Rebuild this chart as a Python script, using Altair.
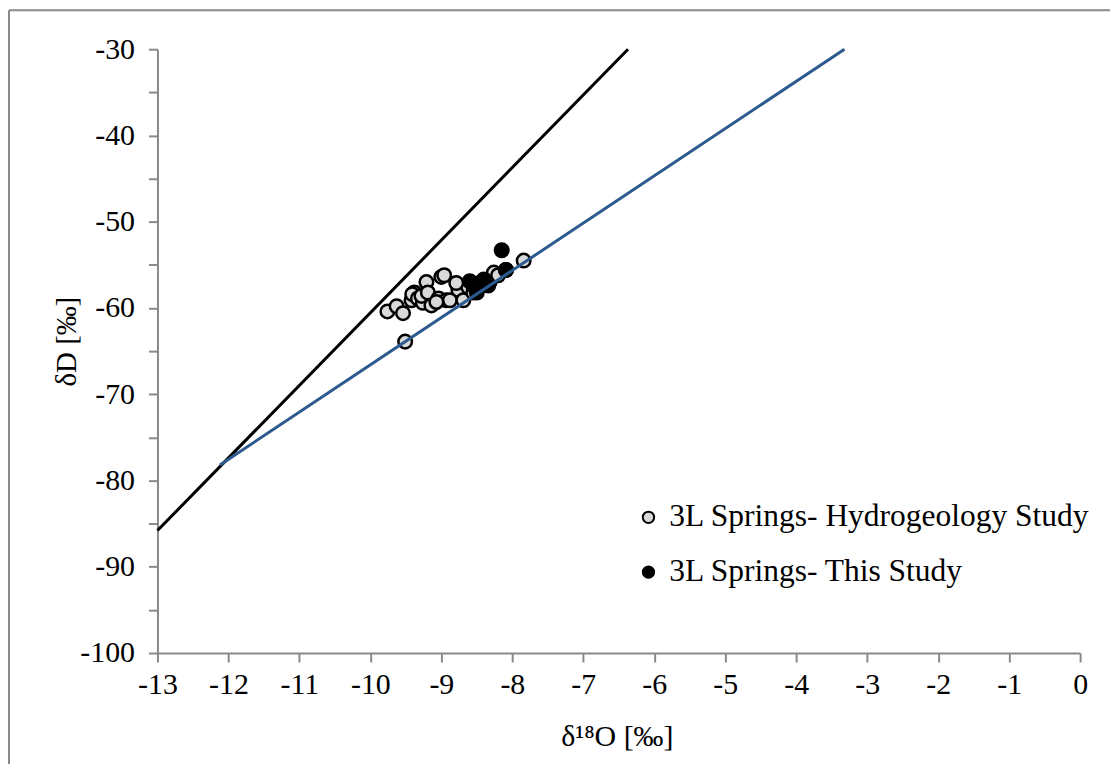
import altair as alt
import pandas as pd

# ---- data ----
series_names = ["3L Springs- Hydrogeology Study", "3L Springs- This Study"]

hydro_x = [-9.76, -9.63, -9.54, -9.51, -9.42, -9.38, -9.41, -9.33, -9.26, -9.28,
           -9.21, -9.19, -9.14, -9.04, -9.00, -8.96, -8.93, -8.88, -8.76, -8.69,
           -8.62, -8.51, -8.41, -8.32, -8.26, -8.20, -8.09, -7.84, -8.55, -8.79,
           -9.07]
hydro_y = [-60.4, -59.8, -60.6, -63.9, -59.1, -58.2, -58.4, -58.9, -59.4, -58.6,
           -57.0, -58.2, -59.7, -58.9, -56.4, -56.2, -59.1, -59.1, -57.9, -59.1,
           -57.6, -57.4, -57.1, -57.0, -55.9, -56.2, -55.6, -54.5, -58.2, -57.1,
           -59.3]

this_x = [-8.15, -8.60, -8.51, -8.46, -8.40, -8.50, -8.09, -8.34, -8.55]
this_y = [-53.3, -56.9, -57.7, -57.1, -56.7, -58.2, -55.6, -57.4, -57.4]

gmwl_x = [-13.0, -6.37]
gmwl_y = [-85.8, -30.0]
lel_x = [-12.12, -3.32]
lel_y = [-78.2, -30.0]

x_ticks = list(range(-13, 1))
y_ticks = list(range(-100, -25, 5))

FONT = "Liberation Serif, Times New Roman, serif"
AXIS_GRAY = "#898989"

pts = pd.DataFrame({
    "x": hydro_x + this_x,
    "y": hydro_y + this_y,
    "series": [series_names[0]] * len(hydro_x) + [series_names[1]] * len(this_x),
})
lines = pd.DataFrame({
    "x": gmwl_x + lel_x,
    "y": gmwl_y + lel_y,
    "line": ["GMWL"] * 2 + ["LEL"] * 2,
})

xscale = alt.Scale(domain=[-13, 0], nice=False, zero=False)
yscale = alt.Scale(domain=[-100, -30], nice=False, zero=False)

x_axis = alt.Axis(values=x_ticks, title="δ¹⁸O [‰]", labelExpr="'' + datum.value",
                  labelFlush=False, titleFontSize=30,
                  titleX=461, titleY=93, titleBaseline="alphabetic", titleAlign="center")
y_axis = alt.Axis(values=y_ticks, title="δD [‰]",
                  labelExpr="datum.value % 10 == 0 ? '' + datum.value : ''",
                  labelFlush=False, titleFontSize=29,
                  titleX=-91, titleY=293, titleAngle=270, titleAlign="center",
                  titleBaseline="middle")

points = alt.Chart(pts).mark_circle(size=185, stroke="black", strokeWidth=2.5, opacity=1).encode(
    x=alt.X("x:Q", scale=xscale, axis=x_axis),
    y=alt.Y("y:Q", scale=yscale, axis=y_axis),
    fill=alt.Fill("series:N",
                  scale=alt.Scale(domain=series_names, range=["#d9d9d9", "#000000"]),
                  legend=alt.Legend(title=None, orient="none", legendX=477, legendY=454,
                                    symbolType="circle", symbolSize=130,
                                    symbolStrokeColor="black", symbolStrokeWidth=2,
                                    labelFont=FONT, labelFontSize=31.6, labelColor="black",
                                    labelLimit=600, rowPadding=22, labelOffset=5)),
)

line_layer = alt.Chart(lines).mark_line(strokeWidth=3).encode(
    x=alt.X("x:Q", scale=xscale),
    y=alt.Y("y:Q", scale=yscale),
    detail="line:N",
    color=alt.Color("line:N", scale=alt.Scale(domain=["GMWL", "LEL"], range=["#000000", "#2c5a8e"]),
                    legend=None),
)

frame_df = pd.DataFrame({"a": [0]})
frame_left = alt.Chart(frame_df).mark_rule(color=AXIS_GRAY, strokeWidth=2).encode(
    x=alt.value(-149), y=alt.value(-39), y2=alt.value(760))
frame_top = alt.Chart(frame_df).mark_rule(color=AXIS_GRAY, strokeWidth=2).encode(
    x=alt.value(-149), x2=alt.value(960), y=alt.value(-39))

chart = alt.layer(points, line_layer, frame_left, frame_top).properties(
    width=926, height=606,
    autosize=alt.AutoSizeParams(type="none"),
    padding={"left": 150, "top": 40, "right": 30, "bottom": 110},
).configure(font=FONT).configure_view(stroke=None).configure_axis(
    grid=False, domainColor=AXIS_GRAY, tickColor=AXIS_GRAY, domainWidth=2, tickWidth=2,
    tickSize=9, labelFont=FONT, labelFontSize=30, labelColor="black", labelPadding=8,
    titleFont=FONT, titleFontWeight="normal", titleColor="black",
).configure_axisY(labelPadding=14).configure_legend(labelFont=FONT)

chart.save("out.html", embed_options={"renderer": "svg", "actions": False})
